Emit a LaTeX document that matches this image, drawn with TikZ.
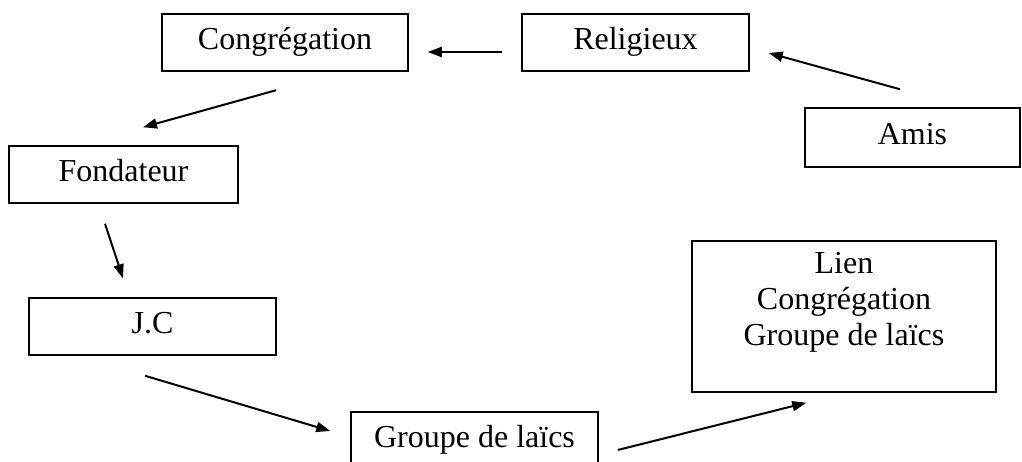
\documentclass[tikz,border=0pt]{standalone}
\usepackage{fontspec}
\setmainfont{Liberation Serif}
\usetikzlibrary{arrows.meta, positioning, calc}
\tikzset{
  cadre/.style={draw=black, line width=1.5pt, fill=white, inner sep=0pt,
                font=\fontsize{32}{36}\selectfont, text height=21pt, text depth=8pt},
  texte/.style={inner sep=0pt, align=center, font=\fontsize{32}{36}\selectfont},
  fleche/.style={-{Triangle[length=14pt, width=10pt]}, line width=2pt, draw=black},
}
\begin{document}
\begin{tikzpicture}[x=1pt, y=-1pt]
  \useasboundingbox (0,0) rectangle (1022,461);
  % boites
  \node[cadre, minimum width=246pt, minimum height=57pt] (congr) at (285,42.5) {Congrégation};
  \node[cadre, minimum width=227pt, minimum height=57pt] (relig) at (635.5,42.5) {Religieux};
  \node[cadre, minimum width=215pt, minimum height=59pt] (amis) at (912.5,137.5) {Amis};
  \node[cadre, minimum width=229pt, minimum height=57pt] (fond) at (123.5,174.5) {Fondateur};
  \node[cadre, minimum width=247pt, minimum height=57pt] (jc) at (152.5,326.5) {J.C};
  \node[cadre, minimum width=247pt, minimum height=57pt] (grp) at (474.5,440.5) {Groupe de laïcs};
  \node[cadre, minimum width=304pt, minimum height=151pt] (lien) at (844,316.5) {};
  \node[texte, below=12pt of lien.north] (lientxt) {Lien\\Congrégation\\Groupe de laïcs};
  % fleches
  \draw[fleche] ($(relig.west)+(-19,9.5)$) -- ($(congr.east)+(19,9.5)$);
  \draw[fleche] ($(amis.north)+(-12.5,-18)$) -- ($(relig.east)+(19,10.5)$);
  \draw[fleche] ($(congr.south)+(-9,18.5)$) -- ($(fond.north)+(19.5,-18)$);
  \draw[fleche] ($(fond.south)+(-18.5,20)$) -- ($(jc.north)+(-29.5,-19)$);
  \draw[fleche] ($(jc.south)+(-7.5,20)$) -- ($(grp.west)+(-20,-9.5)$);
  \draw[fleche] ($(grp.east)+(19,9.5)$) -- ($(lien.south west)+(115,10)$);
\end{tikzpicture}
\end{document}
